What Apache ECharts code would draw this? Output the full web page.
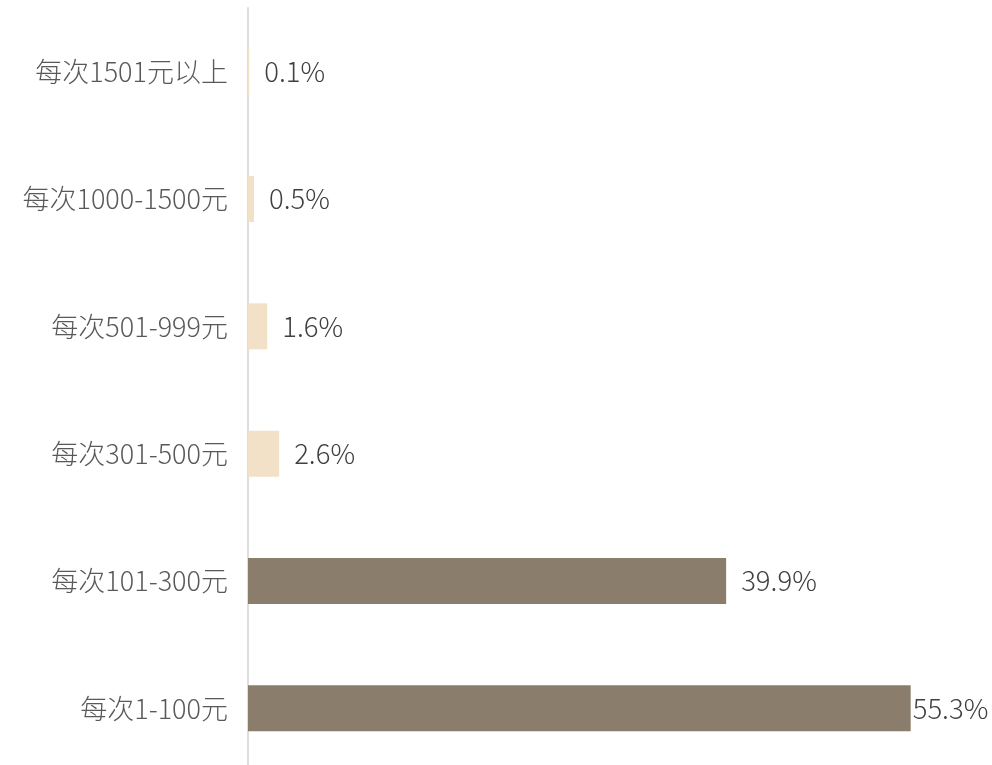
<!DOCTYPE html>
<html>
<head>
<meta charset="utf-8">
<script src="https://cdn.jsdelivr.net/npm/echarts@6/dist/echarts.min.js"></script>
<style>html,body{margin:0;padding:0;background:#fff;overflow:hidden}#c{width:992px;height:772px}</style>
</head>
<body>
<div id="c"></div>
<script>
const categories = ['每次1-100元', '每次101-300元', '每次301-500元', '每次501-999元', '每次1000-1500元', '每次1501元以上'];
const values = [55.3, 39.9, 2.6, 1.6, 0.5, 0.1];
const darkColor = '#8a7d6b';
const lightColor = '#f2e1c6';

const chart = echarts.init(document.getElementById('c'), null, {renderer: 'canvas'});
const fontFamily = '"Noto Sans CJK SC", "Noto Sans", sans-serif';
const seriesData = values.map((v, i) => {
  const item = {value: v, itemStyle: {color: v > 10 ? darkColor : lightColor}};
  if (i === 0) item.label = {distance: 2};
  return item;
});
chart.setOption({
  animation: false,
  grid: {left: 248, right: 25, top: 8, bottom: 0, containLabel: false},
  xAxis: {type: 'value', min: 0, max: 60, show: false},
  yAxis: {
    type: 'category',
    data: categories,
    axisLine: {show: true, lineStyle: {color: '#dddddd', width: 2}},
    axisTick: {show: false},
    axisLabel: {color: '#595959', fontSize: 27, fontWeight: 300, fontFamily: fontFamily, margin: 20}
  },
  series: [{
    type: 'bar',
    data: seriesData,
    barWidth: 46,
    label: {
      show: true,
      position: 'right',
      distance: 15,
      color: '#404040',
      fontSize: 27.5,
      fontWeight: 300,
      fontFamily: fontFamily,
      formatter: p => p.value + '%'
    }
  }]
});
</script>
</body>
</html>
